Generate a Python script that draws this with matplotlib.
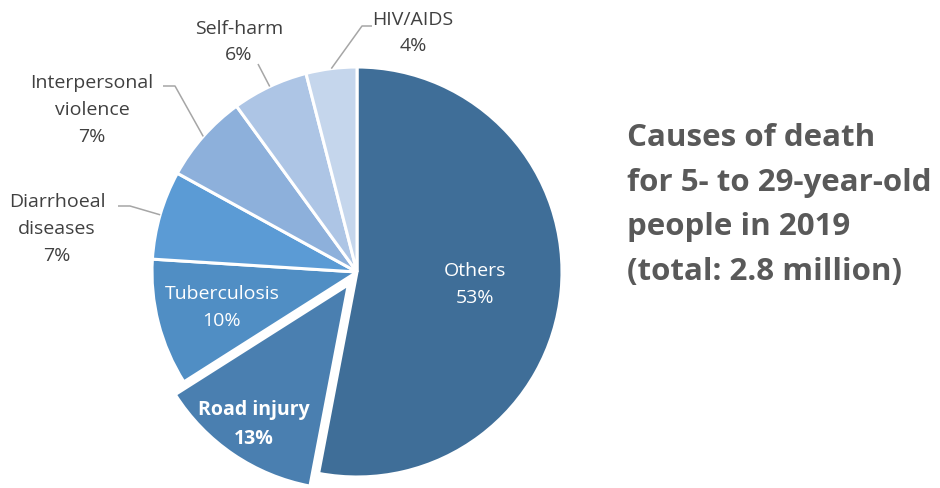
import matplotlib.pyplot as plt
import numpy as np

# Causes of death, share of total (%)
causes = ['Others', 'Road injury', 'Tuberculosis', 'Diarrhoeal\ndiseases',
          'Interpersonal\nviolence', 'Self-harm', 'HIV/AIDS']
shares = [53, 13, 10, 7, 7, 6, 4]
colors = ['#3F6E98', '#4A7FB0', '#508EC4', '#5B9BD5', '#8DB0DB', '#ADC5E5', '#C5D6EC']
pulled = 'Road injury'

plt.rcParams['font.family'] = ['Open Sans', 'DejaVu Sans']

W, H = 940, 489
fig = plt.figure(figsize=(W / 100, H / 100), dpi=100)
ax = fig.add_axes([0, 0, 1, 1])

cx, cy, r = 357, H - 273, 205
# pie explode is in data units here, so scale by radius
explode = [0.075 * r if c == pulled else 0 for c in causes]
wedges, _ = ax.pie(shares, colors=colors, explode=explode, startangle=90,
                   counterclock=False, center=(cx, cy), radius=r,
                   wedgeprops=dict(edgecolor='white', linewidth=2.2),
                   frame=True)
ax.set_xlim(0, W)
ax.set_ylim(0, H)
ax.set_aspect('equal')
ax.axis('off')


def mid_angle(w):
    return np.deg2rad((w.theta1 + w.theta2) / 2)


# labels inside the slices
inner = {0: 0.58, 1: 0.82, 2: 0.68}
for i, frac in inner.items():
    w = wedges[i]
    a = mid_angle(w)
    wx, wy = w.center
    x = wx + frac * r * np.cos(a)
    y = wy + frac * r * np.sin(a)
    weight = 'bold' if causes[i] == pulled else 'normal'
    ax.text(x, y, f'{causes[i]}\n{shares[i]}%', color='white', fontsize=14,
            ha='center', va='center', fontweight=weight, linespacing=1.62)

# labels outside with leader lines: (text x, text y, elbow points)
outer = {
    3: (57, H - 229, [(118, H - 207), (130, H - 207)]),
    4: (92, H - 110, [(163, H - 87), (175, H - 87)]),
    5: (239, H - 42, [(258, H - 65)]),
    6: (413, H - 33, [(372, H - 27), (362, H - 27)]),
}
for i, (tx, ty, pts) in outer.items():
    a = mid_angle(wedges[i])
    ex, ey = cx + r * np.cos(a), cy + r * np.sin(a)
    xs = [p[0] for p in pts] + [ex]
    ys = [p[1] for p in pts] + [ey]
    ax.plot(xs, ys, color='#A6A6A6', lw=1.1, solid_capstyle='butt')
    ax.text(tx, ty, f'{causes[i]}\n{shares[i]}%', color='#404040', fontsize=14,
            ha='center', va='center', linespacing=1.62)

ax.text(627, H - 205, 'Causes of death\nfor 5- to 29-year-old\npeople in 2019\n(total: 2.8 million)',
        color='#595959', fontsize=22.5, fontweight='bold', ha='left', va='center',
        linespacing=1.64)

fig.savefig('out.png', dpi=100, facecolor='white')
